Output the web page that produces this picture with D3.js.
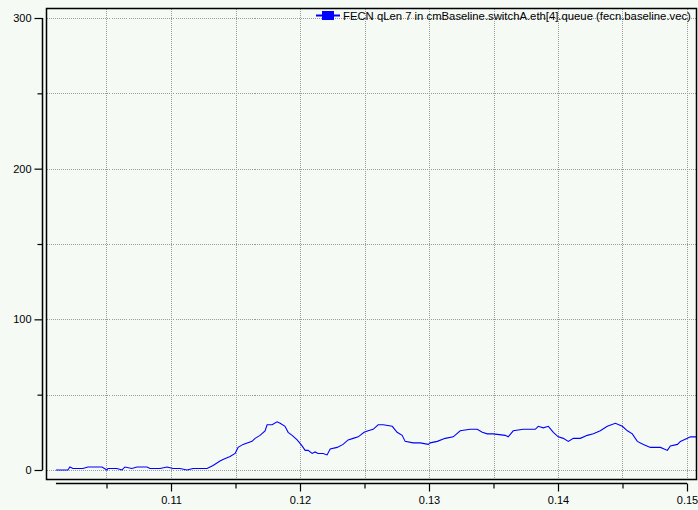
<!DOCTYPE html>
<html>
<head>
<meta charset="utf-8">
<script src="https://cdn.jsdelivr.net/npm/d3@7"></script>
<style>
  html, body { margin: 0; padding: 0; background: #f5faf5; }
  svg { display: block; }
  text { font-family: "Liberation Sans", Arial, sans-serif; font-size: 11px; fill: #000; }
</style>
</head>
<body>
<svg id="chart" width="698" height="510"></svg>
<script>
// Queue length vector recorded at switchA.eth[4]
const seriesName = "FECN qLen 7 in cmBaseline.switchA.eth[4].queue (fecn.baseline.vec)";

const times = [
  0.10108, 0.10201, 0.10216, 0.10240, 0.10294, 0.10317, 0.10356, 0.10395, 0.10465, 0.10503,
  0.10511, 0.10581, 0.10620, 0.10643, 0.10697, 0.10736, 0.10814, 0.10837, 0.10876, 0.10915,
  0.10969, 0.11016, 0.11070, 0.11124, 0.11171, 0.11279, 0.11303, 0.11326, 0.11380, 0.11403,
  0.11458, 0.11497, 0.11520, 0.11559, 0.11628, 0.11652, 0.11690, 0.11729, 0.11745, 0.11784,
  0.11822, 0.11846, 0.11884, 0.11908, 0.11939, 0.11978, 0.12016, 0.12040, 0.12063, 0.12094,
  0.12117, 0.12140, 0.12179, 0.12210, 0.12234, 0.12288, 0.12334, 0.12373, 0.12412, 0.12451,
  0.12497, 0.12528, 0.12567, 0.12606, 0.12645, 0.12715, 0.12753, 0.12792, 0.12815, 0.12877,
  0.12932, 0.12994, 0.13009, 0.13064, 0.13126, 0.13188, 0.13242, 0.13320, 0.13374, 0.13413,
  0.13452, 0.13498, 0.13591, 0.13614, 0.13653, 0.13731, 0.13824, 0.13847, 0.13886, 0.13925,
  0.13964, 0.14002, 0.14041, 0.14080, 0.14119, 0.14173, 0.14227, 0.14274, 0.14328, 0.14382,
  0.14445, 0.14499, 0.14538, 0.14576, 0.14615, 0.14662, 0.14716, 0.14794, 0.14848, 0.14871,
  0.14926, 0.14949, 0.15003, 0.15026, 0.15073
];

const qLen = [
  0, 0, 2, 1, 1, 1, 2, 2, 2, 0,
  1, 1, 0, 2, 1, 2, 2, 1, 1, 1,
  2, 1, 1, 0, 1, 1, 2, 3, 6, 7,
  9, 11, 15, 17, 19, 21, 23, 26, 30, 30,
  32, 31, 29, 25, 23, 20, 16, 13, 13, 11,
  12, 11, 11, 10, 14, 15, 17, 20, 21, 22,
  25, 26, 27, 30, 30, 29, 25, 23, 19, 18,
  18, 17, 18, 19, 21, 22, 26, 27, 27, 25,
  24, 24, 23, 22, 26, 27, 27, 29, 28, 29,
  25, 22, 21, 19, 21, 21, 23, 24, 26, 29,
  31, 29, 26, 24, 19, 17, 15, 15, 13, 16,
  17, 19, 21, 22, 22
];

const xMajorTicks = [0.11, 0.12, 0.13, 0.14, 0.15];
const xMinorTicks = [0.105, 0.115, 0.125, 0.135, 0.145];
const yMajorTicks = [0, 100, 200, 300];
const yMinorTicks = [50, 150, 250];

const data = times.map((t, i) => ({ t, v: qLen[i] }));

const svg = d3.select("#chart");

const x = d3.scaleLinear().domain([0.11, 0.15]).range([171, 687]);
const y = d3.scaleLinear().domain([0, 300]).range([470, 18]);

// plot frame
const frame = { left: 46.5, top: 8.5, right: 696.5, bottom: 479.5 };

svg.append("rect")
  .attr("x", frame.left).attr("y", frame.top)
  .attr("width", frame.right - frame.left)
  .attr("height", frame.bottom - frame.top)
  .attr("fill", "#f5faf5");

// dotted grid
const grid = svg.append("g").attr("stroke", "#9a9a9a").attr("stroke-width", 1)
  .attr("stroke-dasharray", "1,1").attr("shape-rendering", "crispEdges");

grid.selectAll("line.v").data(xMajorTicks.concat(xMinorTicks)).join("line")
  .attr("class", "v")
  .attr("x1", d => Math.round(x(d)) + 0.5).attr("x2", d => Math.round(x(d)) + 0.5)
  .attr("y1", frame.top).attr("y2", frame.bottom);

grid.selectAll("line.h").data(yMajorTicks.concat(yMinorTicks)).join("line")
  .attr("class", "h")
  .attr("y1", d => Math.round(y(d)) + 0.5).attr("y2", d => Math.round(y(d)) + 0.5)
  .attr("x1", frame.left).attr("x2", frame.right);

// series line
const line = d3.line().x(d => x(d.t)).y(d => y(d.v));
svg.append("path")
  .datum(data)
  .attr("fill", "none")
  .attr("stroke", "#0000ff")
  .attr("stroke-width", 1.1)
  .attr("d", line);

// frame border
svg.append("rect")
  .attr("x", frame.left).attr("y", frame.top)
  .attr("width", frame.right - frame.left)
  .attr("height", frame.bottom - frame.top)
  .attr("fill", "none").attr("stroke", "#000").attr("stroke-width", 1.5);

// x axis, detached below the frame
const xAxisY = 483.5;
const gx = svg.append("g").attr("transform", `translate(0,${xAxisY})`);
gx.call(d3.axisBottom(x).tickValues(xMajorTicks).tickSize(8).tickSizeOuter(0)
  .tickFormat(d3.format(".2f")));
gx.selectAll(".domain").remove();
const gxMinor = svg.append("g").attr("transform", `translate(0,${xAxisY})`);
gxMinor.call(d3.axisBottom(x).tickValues(xMinorTicks).tickSize(5).tickFormat(""));
gxMinor.selectAll(".domain").remove();
gx.append("line")
  .attr("x1", x(times[0])).attr("x2", x(0.15))
  .attr("y1", 0).attr("y2", 0)
  .attr("stroke", "#000").attr("stroke-width", 1.5);
gx.selectAll(".tick text").attr("y", 13).attr("font-size", 11)
  .attr("font-family", "Liberation Sans, Arial, sans-serif");

// y axis, detached left of the frame
const yAxisX = 42.5;
const gy = svg.append("g").attr("transform", `translate(${yAxisX},0)`);
gy.call(d3.axisLeft(y).tickValues(yMajorTicks).tickSize(8).tickSizeOuter(0)
  .tickFormat(d3.format("d")));
gy.selectAll(".domain").remove();
const gyMinor = svg.append("g").attr("transform", `translate(${yAxisX},0)`);
gyMinor.call(d3.axisLeft(y).tickValues(yMinorTicks).tickSize(5).tickFormat(""));
gyMinor.selectAll(".domain").remove();
gy.append("line")
  .attr("x1", 0).attr("x2", 0)
  .attr("y1", y(300)).attr("y2", y(0))
  .attr("stroke", "#000").attr("stroke-width", 1.5);
gy.selectAll(".tick text").attr("x", -11).attr("font-size", 11)
  .attr("font-family", "Liberation Sans, Arial, sans-serif");

svg.selectAll(".tick line").attr("stroke", "#000").attr("stroke-width", 1.2);

// legend
const legend = svg.append("g");
legend.append("line")
  .attr("x1", 316).attr("x2", 340).attr("y1", 15.5).attr("y2", 15.5)
  .attr("stroke", "#0000ff").attr("stroke-width", 2);
legend.append("rect")
  .attr("x", 322).attr("y", 11).attr("width", 12).attr("height", 9)
  .attr("fill", "#0000ff");
legend.append("text")
  .attr("x", 343).attr("y", 19.5)
  .style("font-size", "11.3px")
  .text(seriesName);
</script>
</body>
</html>
